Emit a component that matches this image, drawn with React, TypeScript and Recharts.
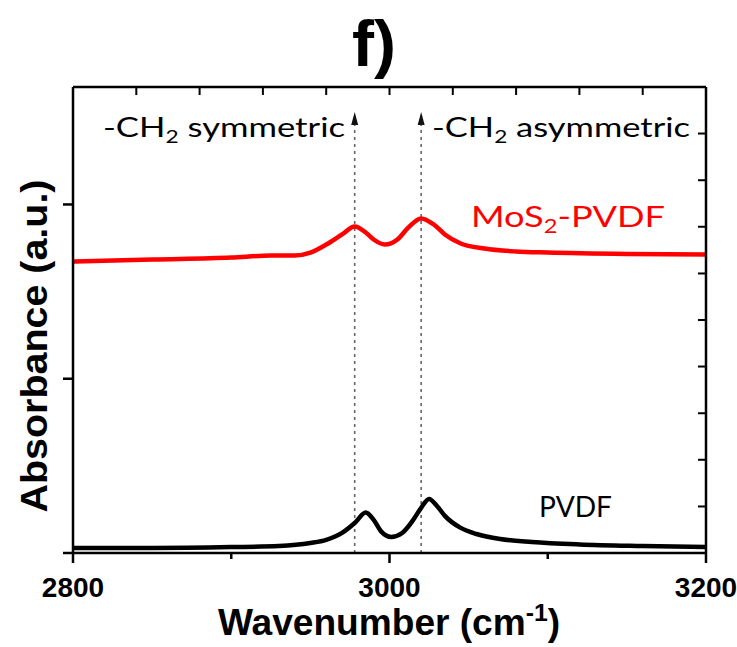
import React from 'react';
import { ComposedChart, Line, Scatter, XAxis, YAxis, ReferenceLine } from 'recharts';

// MoS2-PVDF spectrum (red)
const mosWave = [2800, 2850, 2900, 2925, 2940, 2950, 2960, 2970, 2978, 2985, 2990, 2997, 3005, 3012, 3020, 3028, 3035, 3045, 3060, 3080, 3100, 3150, 3200];
const mosAbs = [1.672, 1.684, 1.695, 1.707, 1.707, 1.724, 1.77, 1.828, 1.874, 1.839, 1.799, 1.77, 1.799, 1.868, 1.92, 1.885, 1.828, 1.776, 1.747, 1.73, 1.724, 1.716, 1.713];

// pure PVDF spectrum (black)
const pvdfWave = [2800, 2850, 2900, 2930, 2950, 2960, 2970, 2978, 2985, 2990, 2995, 3001, 3008, 3015, 3020, 3025, 3030, 3035, 3045, 3055, 3070, 3090, 3120, 3160, 3200];
const pvdfAbs = [0.029, 0.029, 0.034, 0.04, 0.057, 0.075, 0.115, 0.172, 0.232, 0.19, 0.121, 0.092, 0.115, 0.19, 0.259, 0.31, 0.27, 0.213, 0.144, 0.109, 0.08, 0.063, 0.049, 0.04, 0.034];

// -CH2 band positions (dashed arrows)
const bandWave = [2978, 3020];
const arrowTop = 2.53;

const bottomTicks = [2800, 2900, 3000, 3100, 3200];
const bottomLabels = [2800, 3000, 3200];
const topTicks = [2840, 2880, 2920, 2960, 3000, 3040, 3080, 3120, 3160];
const leftTicks = [0, 1, 2];
const rightTicks = [0.267, 0.535, 0.802, 1.07, 1.337, 1.604, 1.872, 2.139, 2.407];
const yMax = 2.674;

const mosData = mosWave.map((x, i) => ({ x, y: mosAbs[i] }));
const pvdfData = pvdfWave.map((x, i) => ({ x, y: pvdfAbs[i] }));
const arrowData = bandWave.map(x => ({ x, y: arrowTop }));
const topTickData = topTicks.map(x => ({ x, y: yMax }));

const boldFont = '"Liberation Sans", Arial, sans-serif';
const textFont = 'Lato, "Open Sans", sans-serif';

const BottomTick = (props: any) => {
  const { x, y, payload } = props;
  const major = bottomLabels.includes(payload.value);
  return (
    <g>
      <line x1={x} x2={x} y1={y} y2={y + (major ? 10 : 6)} stroke="#000" strokeWidth={2.5} />
      {major && (
        <text x={x} y={y + 44} textAnchor="middle" fontFamily={boldFont} fontWeight="bold" fontSize={28} fill="#000">
          {payload.value}
        </text>
      )}
    </g>
  );
};

// tick marks only, no labels
const NoLabel = () => <g />;

// inward tick mark hanging from the top frame
const TopMark = (props: any) => {
  const { cx, cy } = props;
  return <line x1={cx} x2={cx} y1={cy} y2={cy + 8} stroke="#000" strokeWidth={2} />;
};

const Arrow = (props: any) => {
  const { cx, cy } = props;
  return <path d={`M${cx},${cy} L${cx - 3.5},${cy + 13} L${cx + 3.5},${cy + 13} Z`} fill="#111" />;
};

export default function App() {
  return (
    <div style={{ position: 'absolute', left: 0, top: 0, width: 737, height: 647, background: '#fff' }}>
      <ComposedChart width={737} height={647} margin={{ top: 86, right: 30, bottom: 93, left: 72 }}>
        <XAxis
          dataKey="x"
          type="number"
          domain={[2800, 3200]}
          ticks={bottomTicks}
          height={1}
          tickSize={0}
          tickMargin={0}
          tickLine={false}
          tick={<BottomTick />}
          axisLine={{ stroke: '#000', strokeWidth: 2.5 }}
          allowDataOverflow
        />
        <XAxis
          xAxisId="top"
          dataKey="x"
          type="number"
          orientation="top"
          domain={[2800, 3200]}
          ticks={topTicks}
          height={1}
          tickLine={false}
          tick={<NoLabel />}
          axisLine={{ stroke: '#000', strokeWidth: 2.5 }}
          allowDataOverflow
        />
        <YAxis
          type="number"
          domain={[0, yMax]}
          ticks={leftTicks}
          width={1}
          tickSize={10}
          tick={<NoLabel />}
          tickLine={{ stroke: '#000', strokeWidth: 2.5 }}
          axisLine={{ stroke: '#000', strokeWidth: 2.5 }}
          allowDataOverflow
        />
        <YAxis
          yAxisId="r"
          orientation="right"
          type="number"
          domain={[0, yMax]}
          ticks={rightTicks}
          interval={0}
          width={1}
          tickSize={-8}
          tick={<NoLabel />}
          tickLine={{ stroke: '#000', strokeWidth: 2 }}
          axisLine={{ stroke: '#000', strokeWidth: 2.5 }}
          allowDataOverflow
        />
        {bandWave.map(w => (
          <ReferenceLine
            key={w}
            segment={[{ x: w, y: 0 }, { x: w, y: arrowTop - 0.05 }]}
            stroke="#666"
            strokeWidth={1.6}
            strokeDasharray="3 4"
          />
        ))}
        <Line data={mosData} dataKey="y" xAxisId="top" yAxisId="r" type="monotone" stroke="#ff0000" strokeWidth={4.5} dot={false} isAnimationActive={false} />
        <Line data={pvdfData} dataKey="y" type="monotone" stroke="#000" strokeWidth={4.5} dot={false} isAnimationActive={false} />
        <Scatter data={arrowData} dataKey="y" shape={<Arrow />} isAnimationActive={false} />
        <Scatter data={topTickData} dataKey="y" shape={<TopMark />} isAnimationActive={false} />
      </ComposedChart>
      <svg width={737} height={647} style={{ position: 'absolute', left: 0, top: 0, pointerEvents: 'none' }}>
        <text x={374} y={66} textAnchor="middle" fontFamily={boldFont} fontWeight="bold" fontSize={64} textLength={44} lengthAdjust="spacingAndGlyphs">f)</text>
        <text x={103} y={137} fontFamily={textFont} fontSize={26} fill="#000" textLength={242} lengthAdjust="spacingAndGlyphs">
          -CH<tspan fontSize={17} dy={6}>2</tspan><tspan dy={-6}> symmetric</tspan>
        </text>
        <text x={432} y={137} fontFamily={textFont} fontSize={26} fill="#000" textLength={258} lengthAdjust="spacingAndGlyphs">
          -CH<tspan fontSize={17} dy={6}>2</tspan><tspan dy={-6}> asymmetric</tspan>
        </text>
        <text x={471} y={227} fontFamily={textFont} fontSize={29} fill="#ff0000" textLength={194} lengthAdjust="spacingAndGlyphs">
          MoS<tspan fontSize={19} dy={6}>2</tspan><tspan dy={-6}>-PVDF</tspan>
        </text>
        <text x={539} y={517} fontFamily={textFont} fontSize={28} fill="#000" textLength={73} lengthAdjust="spacingAndGlyphs">PVDF</text>
        <text x={47} y={346} transform="rotate(-90 47 346)" textAnchor="middle" fontFamily={boldFont} fontWeight="bold" fontSize={37} textLength={333} lengthAdjust="spacingAndGlyphs">
          Absorbance (a.u.)
        </text>
        <text x={389} y={635} textAnchor="middle" fontFamily={boldFont} fontWeight="bold" fontSize={36} textLength={342} lengthAdjust="spacingAndGlyphs">
          Wavenumber (cm<tspan fontSize={24} dy={-14}>-1</tspan><tspan dy={14}>)</tspan>
        </text>
      </svg>
    </div>
  );
}
